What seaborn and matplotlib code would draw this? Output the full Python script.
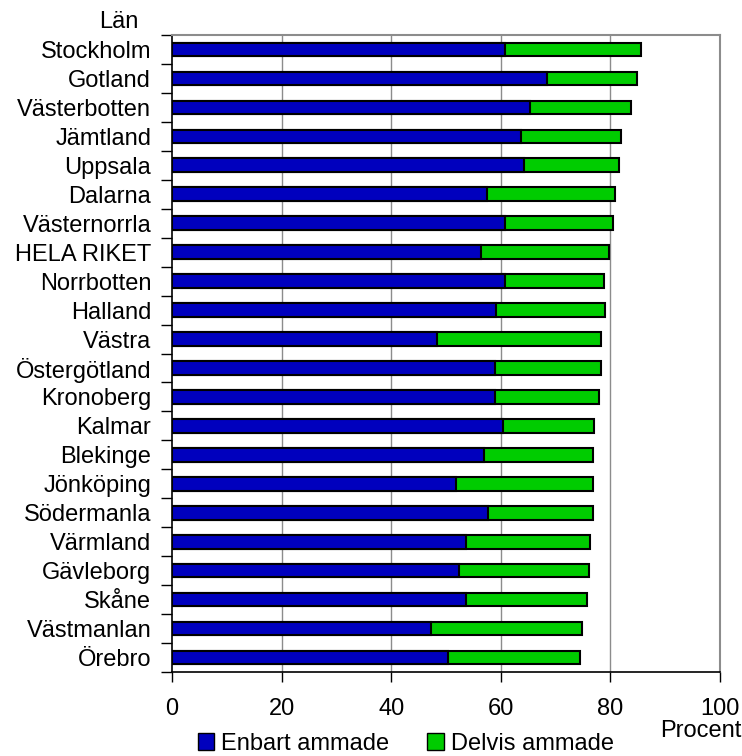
import matplotlib
matplotlib.use("Agg")
import matplotlib.pyplot as plt
import seaborn as sns
import pandas as pd
from matplotlib.patches import Patch

lan = ["Stockholm", "Gotland", "Västerbotten", "Jämtland", "Uppsala", "Dalarna",
       "Västernorrla", "HELA RIKET", "Norrbotten", "Halland", "Västra",
       "Östergötland", "Kronoberg", "Kalmar", "Blekinge", "Jönköping",
       "Södermanla", "Värmland", "Gävleborg", "Skåne", "Västmanlan", "Örebro"]
enbart = [60.7, 68.4, 65.4, 63.6, 64.3, 57.4, 60.7, 56.3, 60.7, 59.2, 48.3,
          58.9, 58.9, 60.4, 57.0, 51.9, 57.7, 53.7, 52.3, 53.7, 47.2, 50.4]
totalt = [85.6, 84.8, 83.7, 81.9, 81.5, 80.8, 80.5, 79.7, 78.9, 79.0, 78.2,
          78.2, 77.9, 77.1, 76.8, 76.8, 76.8, 76.3, 76.1, 75.7, 74.9, 74.5]

df = pd.DataFrame({"lan": lan, "enbart": enbart, "totalt": totalt})

blue = "#0000BE"
green = "#00CC00"
fs = 17

sns.set_style("white")
plt.rcParams["font.family"] = ["Liberation Sans", "DejaVu Sans"]
plt.rcParams["text.color"] = "black"
plt.rcParams["xtick.color"] = "black"
plt.rcParams["ytick.color"] = "black"

fig = plt.figure(figsize=(7.42, 7.56), dpi=100)
ax = fig.add_axes([0.2318, 0.1111, 0.7385, 0.8426])

# green = total (enbart + delvis), blue drawn on top
sns.barplot(data=df, x="totalt", y="lan", orient="h", color=green, width=0.47,
            edgecolor="black", linewidth=1.5, saturation=1, ax=ax, zorder=2)
sns.barplot(data=df, x="enbart", y="lan", orient="h", color=blue, width=0.47,
            edgecolor="black", linewidth=1.5, saturation=1, ax=ax, zorder=3)

ax.set_xlim(0, 100)
ax.set_ylim(len(lan) - 0.5, -0.5)
ax.set_xticks([0, 20, 40, 60, 80, 100])
ax.tick_params(axis="x", bottom=True, labelsize=fs, length=7, width=1,
               direction="out", pad=12, color="black", labelcolor="black")
ax.tick_params(axis="y", which="major", left=True, length=0, labelsize=fs,
               pad=15, labelcolor="black")
ax.set_yticks([i - 0.5 for i in range(len(lan) + 1)], minor=True)
ax.tick_params(axis="y", which="minor", left=True, length=8, width=1,
               direction="out", color="black")
ax.set_xlabel("")
ax.set_ylabel("")

for v in [20, 40, 60, 80]:
    ax.axvline(v, color="#8c8c8c", linewidth=1, zorder=1)

for side in ["left", "bottom"]:
    ax.spines[side].set_color("black")
    ax.spines[side].set_linewidth(1.2)
for side in ["top", "right"]:
    ax.spines[side].set_color("#8c8c8c")
    ax.spines[side].set_linewidth(1.5)

fig.text(0.187, 0.971, "Län", ha="right", va="center", fontsize=fs)
fig.text(0.999, 0.033, "Procent", ha="right", va="center", fontsize=fs)

handles = [Patch(facecolor=blue, edgecolor="black", label="Enbart ammade"),
           Patch(facecolor=green, edgecolor="black", label="Delvis ammade")]
fig.legend(handles=handles, loc="center", bbox_to_anchor=(0.547, 0.016), ncol=2,
           frameon=False, fontsize=fs, handlelength=0.7, handleheight=0.7,
           handletextpad=0.3, columnspacing=1.6, borderpad=0)

fig.savefig("out.png", dpi=100)
